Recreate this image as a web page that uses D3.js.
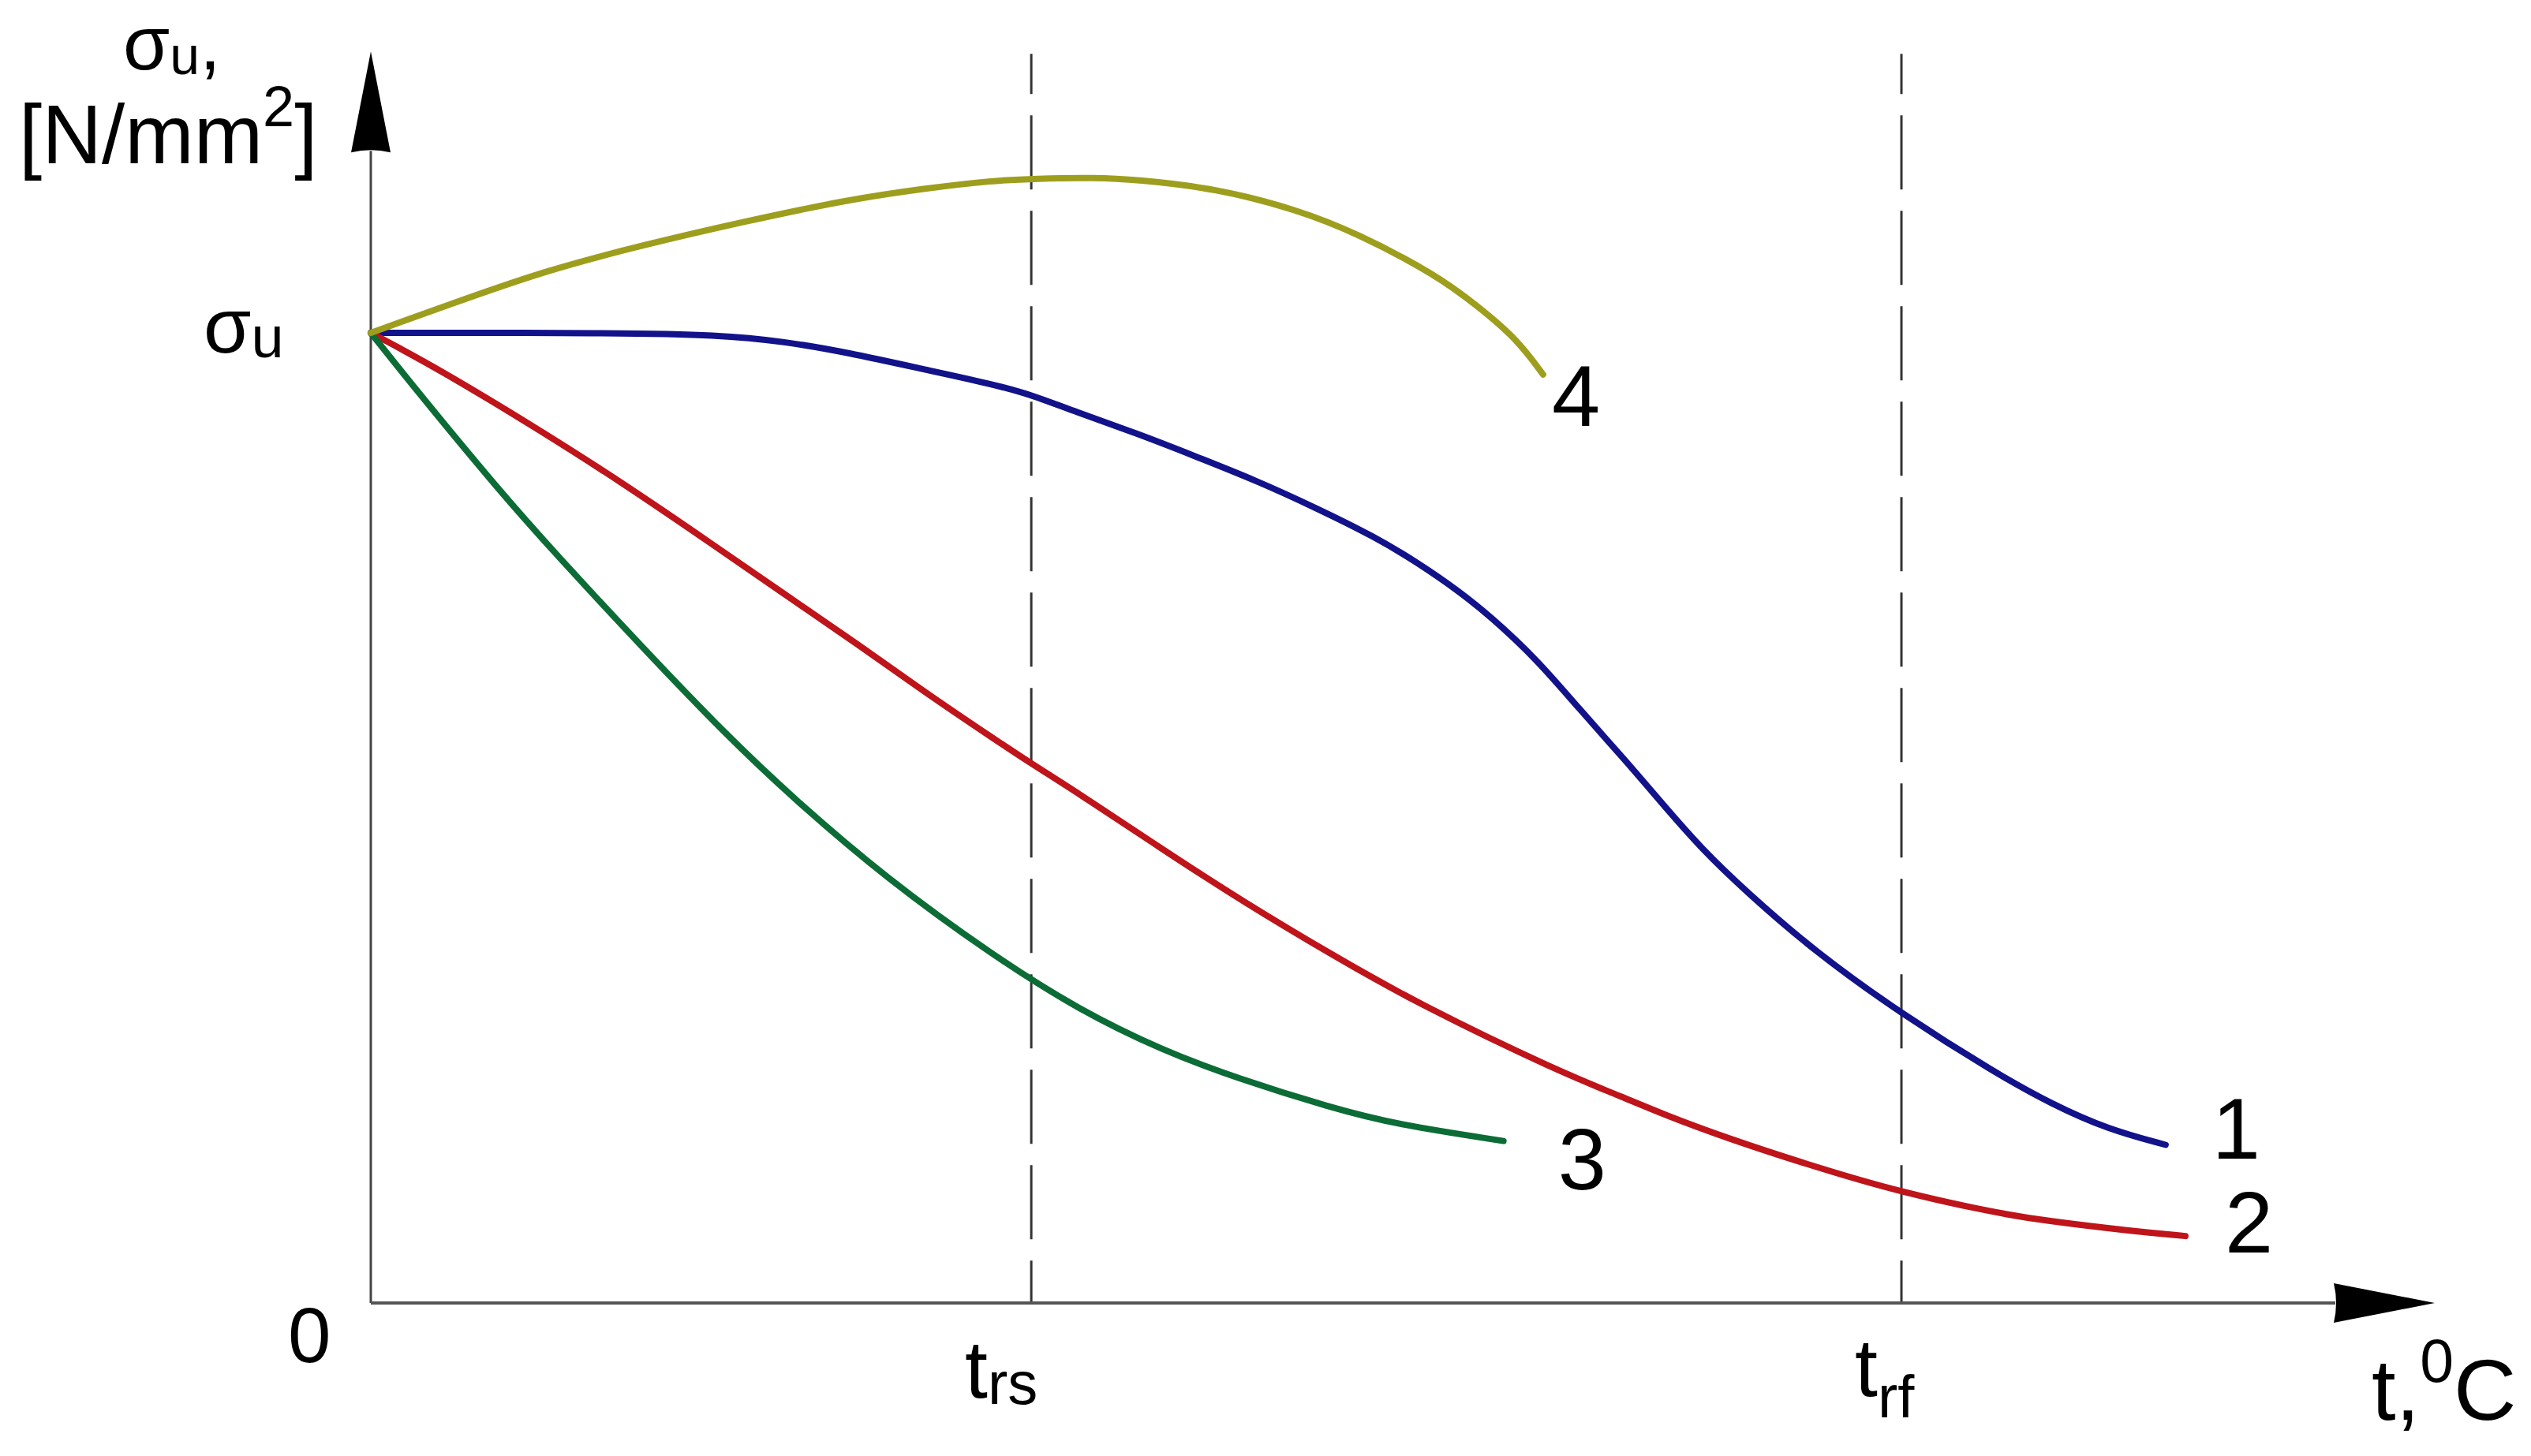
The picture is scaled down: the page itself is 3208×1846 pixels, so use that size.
<!DOCTYPE html>
<html>
<head>
<meta charset="utf-8">
<script src="https://cdn.jsdelivr.net/npm/d3@7"></script>
<style>
  body { margin: 0; background: #fff; }
  svg { display: block; font-family: "Liberation Sans", Arial, sans-serif; }
</style>
</head>
<body>
<div class="chart"></div>
<script>
// temperature in arbitrary units, strength relative to sigma_u (1.0)
const tRs = 400;
const tRf = 927;
const tMax = 1250;
const sMax = 1.29;

const curveNames = ['1', '2', '3', '4'];

const t1 = [0, 149, 210, 251, 288, 336, 377, 402, 426, 463, 499, 536, 572, 609, 634, 658, 678, 707, 731, 760, 782, 806, 833, 874, 927, 984, 1018, 1052, 1087];
const s1 = [1.0, 1.0, 0.998, 0.991, 0.98, 0.962, 0.947, 0.935, 0.919, 0.897, 0.873, 0.848, 0.82, 0.789, 0.763, 0.735, 0.708, 0.662, 0.614, 0.559, 0.515, 0.468, 0.424, 0.363, 0.298, 0.237, 0.205, 0.179, 0.163];

const t2 = [0, 42, 102, 151, 207, 251, 295, 336, 377, 400, 429, 480, 528, 585, 636, 719, 760, 782, 821, 877, 927, 984, 1013, 1067, 1099];
const s2 = [1.0, 0.962, 0.9, 0.847, 0.782, 0.73, 0.679, 0.629, 0.582, 0.556, 0.525, 0.467, 0.414, 0.356, 0.307, 0.239, 0.211, 0.195, 0.17, 0.139, 0.114, 0.093, 0.085, 0.074, 0.069];

const t3 = [0, 29, 78, 112, 166, 215, 256, 312, 377, 429, 480, 524, 582, 621, 686];
const s3 = [1.0, 0.938, 0.837, 0.772, 0.673, 0.586, 0.52, 0.438, 0.358, 0.302, 0.26, 0.232, 0.201, 0.184, 0.167];

const t4 = [0, 44, 105, 166, 227, 288, 336, 377, 402, 439, 463, 512, 561, 597, 646, 670, 694, 710];
const s4 = [1.0, 1.027, 1.064, 1.091, 1.115, 1.137, 1.149, 1.157, 1.159, 1.16, 1.158, 1.149, 1.127, 1.103, 1.059, 1.028, 0.994, 0.957];

const W = 3208, H = 1846;

const svg = d3.select('.chart')
  .append('svg')
    .attr('width', W)
    .attr('height', H)
    .attr('viewBox', `0 0 ${W} ${H}`);

const x = d3.scaleLinear().domain([0, tMax]).range([470, 3086]);
const y = d3.scaleLinear().domain([0, 1]).range([1652, 422]);

// dashed guide lines at t_rs and t_rf
svg.selectAll('line.guide')
  .data([tRs, tRf])
  .enter().append('line')
    .attr('class', 'guide')
    .attr('x1', d => x(d)).attr('x2', d => x(d))
    .attr('y1', y(sMax) + 3).attr('y2', y(0))
    .attr('stroke', '#333')
    .attr('stroke-width', 3)
    .attr('stroke-dasharray', '94,27')
    .attr('stroke-dashoffset', 43);

// axes
const arrowLen = 128, arrowHalf = 25;
svg.append('line')
  .attr('x1', x(0)).attr('x2', x(0))
  .attr('y1', y(0)).attr('y2', y(sMax) + arrowLen - 2)
  .attr('stroke', '#444').attr('stroke-width', 3);
svg.append('line')
  .attr('x1', x(0)).attr('x2', x(tMax) - arrowLen + 2)
  .attr('y1', y(0)).attr('y2', y(0))
  .attr('stroke', '#555').attr('stroke-width', 4);

// arrow heads
svg.append('path')
  .attr('d', `M${x(0)},${y(sMax)} L${x(0) + arrowHalf},${y(sMax) + arrowLen} Q${x(0)},${y(sMax) + arrowLen - 6} ${x(0) - arrowHalf},${y(sMax) + arrowLen} Z`)
  .attr('fill', '#000');
svg.append('path')
  .attr('d', `M${x(tMax)},${y(0)} L${x(tMax) - arrowLen},${y(0) - arrowHalf} Q${x(tMax) - arrowLen + 6},${y(0)} ${x(tMax) - arrowLen},${y(0) + arrowHalf} Z`)
  .attr('fill', '#000');

// curves
const series = [
  { name: curveNames[0], t: t1, s: s1, color: '#12128a', dx: 59, dy: 17 },
  { name: curveNames[1], t: t2, s: s2, color: '#be141a', dx: 50, dy: 21 },
  { name: curveNames[2], t: t3, s: s3, color: '#0c6c36', dx: 69, dy: 61 },
  { name: curveNames[3], t: t4, s: s4, color: '#9e9e1e', dx: 11, dy: 65 }
];

const line = d3.line()
  .x(d => x(d[0]))
  .y(d => y(d[1]))
  .curve(d3.curveBasis);

svg.selectAll('path.curve')
  .data(series)
  .enter().append('path')
    .attr('class', 'curve')
    .attr('d', d => line(d.t.map((v, i) => [v, d.s[i]])))
    .attr('fill', 'none')
    .attr('stroke', d => d.color)
    .attr('stroke-width', 8)
    .attr('stroke-linecap', 'round')
    .attr('stroke-linejoin', 'round');

svg.selectAll('text.clabel')
  .data(series)
  .enter().append('text')
    .attr('class', 'clabel')
    .attr('x', d => x(d.t[d.t.length - 1]) + d.dx)
    .attr('y', d => y(d.s[d.s.length - 1]) + d.dy)
    .attr('font-size', 110)
    .text(d => d.name);

// axis texts
const yTitle = svg.append('text').attr('x', 156).attr('y', 88);
yTitle.append('tspan').attr('font-size', 96).text('σ');
yTitle.append('tspan').attr('font-size', 68).attr('dy', 6).text('u');
yTitle.append('tspan').attr('font-size', 96).attr('dy', -6).text(',');

const yUnit = svg.append('text').attr('x', 24).attr('y', 207).attr('font-size', 105);
yUnit.append('tspan').text('[N/mm');
yUnit.append('tspan').attr('font-size', 72).attr('dy', -47).text('2');
yUnit.append('tspan').attr('dy', 47).text(']');

const sigLabel = svg.append('text').attr('x', 258).attr('y', y(1) + 25);
sigLabel.append('tspan').attr('font-size', 98).text('σ');
sigLabel.append('tspan').attr('font-size', 74).attr('dy', 6).text('u');

svg.append('text')
  .attr('x', x(0) - 105).attr('y', y(0) + 75)
  .attr('font-size', 98)
  .text('0');

const trs = svg.append('text').attr('x', x(tRs) - 84).attr('y', 1772);
trs.append('tspan').attr('font-size', 104).text('t');
trs.append('tspan').attr('font-size', 76).attr('dy', 8).text('rs');

const trf = svg.append('text').attr('x', x(tRf) - 59).attr('y', 1770);
trf.append('tspan').attr('font-size', 104).text('t');
trf.append('tspan').attr('font-size', 76).attr('dy', 27).text('rf');

const tLabel = svg.append('text').attr('x', 3006).attr('y', 1800).attr('font-size', 110);
tLabel.append('tspan').text('t,');
tLabel.append('tspan').attr('font-size', 77).attr('dy', -48).text('0');
tLabel.append('tspan').attr('dy', 48).text('C');
</script>
</body>
</html>
